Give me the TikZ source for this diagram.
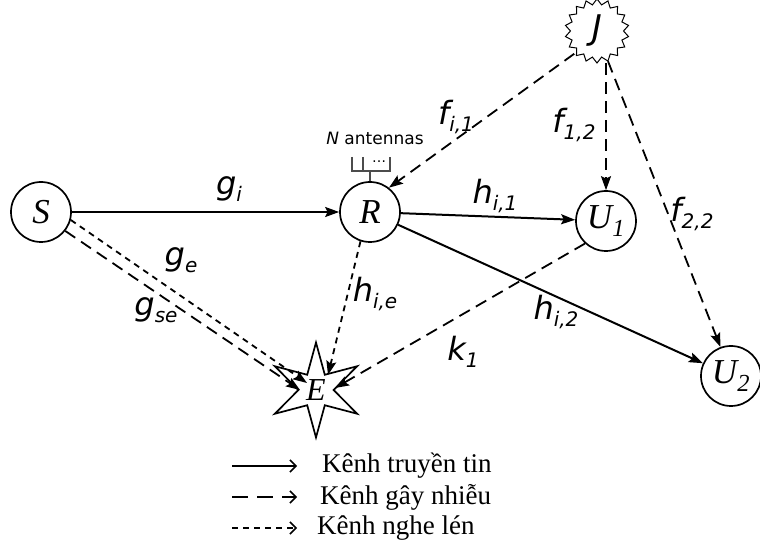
\documentclass[tikz,border=0pt]{standalone}
\usepackage{fontspec}
\setmainfont{Liberation Serif}
\newfontfamily\djv{DejaVu Sans}
\usetikzlibrary{shapes.geometric,arrows.meta,calc}
\newcommand{\lbsub}[2]{{\djv\itshape\fontsize{32}{34}\selectfont #1\raisebox{-7pt}{\fontsize{20}{22}\selectfont #2}}}
\begin{document}
\begin{tikzpicture}[x=1pt,y=1pt,
 nd/.style={circle,draw,line width=1.7pt,minimum size=60pt,inner sep=0pt,font=\fontsize{35}{37}\selectfont\itshape},
 tx/.style={-{Stealth[length=14pt,width=10pt,inset=2.5pt]},line width=2pt},
 jam/.style={tx,dash pattern=on 12pt off 7pt,line width=1.8pt},
 eav/.style={tx,dash pattern=on 6pt off 5pt,line width=1.8pt},
 lab/.style={inner sep=0pt},
 leg/.style={line width=1.5pt,-{Straight Barb[length=6pt,width=12pt]}},
 legtxt/.style={anchor=west,inner sep=0pt,font=\fontsize{27}{29}\selectfont},
 ant/.style={draw=black!70,line width=1.2pt}
]
\useasboundingbox (0,0) rectangle (760,557);
% nodes
\node[nd] (S) at (41,345) {S};
\node[nd] (R) at (370,345) {R};
\node[nd] (U1) at (606,336) {U\textsubscript{\textit{1}}};
\node[nd] (U2) at (731,181) {U\textsubscript{2}};
\node[star,star points=6,star point ratio=2.7,minimum size=95pt,inner sep=0pt,draw,line width=1.7pt,
      font=\fontsize{32}{34}\selectfont\itshape] (E) at (316,167) {E};
\node[circle,minimum size=64pt,inner sep=0pt,font=\djv\itshape\fontsize{34}{36}\selectfont] (J) at (597,526) {J};
\draw[line width=1pt] ([shift={(90:32)}]J.center)
  \foreach \k in {0,...,17}{ -- ([shift={({100+20*\k}:26.5)}]J.center) -- ([shift={({110+20*\k}:32)}]J.center)} -- cycle;
% antenna
\draw[ant] (R.north) -- ++(0,11) coordinate (stem);
\draw[ant] (352,400) -- (352,386) -- (390,386) -- (390,400);
\draw[ant] (363,400) -- (363,386);
\node[inner sep=0pt,font=\djv\fontsize{14}{14}\selectfont] (dots) at (379,395) {…};
\node[inner sep=0pt,font=\djv\fontsize{17}{18}\selectfont] (Nant) at (375,419) {\textit{N} antennas};
% end coordinates on E
\coordinate (eS1) at ($(E)+(-9,7)$);
\coordinate (eS2) at ($(E)+(-16,0)$);
\coordinate (eR) at ($(E)+(12,15)$);
\coordinate (eU) at ($(E)+(19,2)$);
% connectors
\draw[tx] (S) -- (R);
\draw[tx] (R) -- (U1);
\draw[tx] (R) -- (U2);
\draw[eav] (S.-15) -- (eS1);
\draw[jam] (S.-38) -- (eS2);
\draw[eav] (R.-108) -- (eR);
\draw[jam] (U1.-133) -- (eU);
\draw[jam] (J.-135) -- (R.52);
\draw[jam] (U1.north |- J.south) -- (U1.north);
\draw[jam] (J.-70) -- (U2.110);
% labels
\node[lab] (lgi) at (229,368) {\lbsub{g}{i}};
\node[lab] (lge) at (181,297) {\lbsub{g}{e}};
\node[lab] (lgse) at (156,247) {\lbsub{g}{se}};
\node[lab] (lhie) at (375,263) {\lbsub{h}{i,e}};
\node[lab] (lfi1) at (456,440) {\lbsub{f}{i,1}};
\node[lab] (lf12) at (574,432) {\lbsub{f}{1,2}};
\node[lab] (lhi1) at (495,361) {\lbsub{h}{i,1}};
\node[lab] (lhi2) at (556,245) {\lbsub{h}{i,2}};
\node[lab] (lk1) at (463,205) {\lbsub{k}{1}};
\node[lab] (lf22) at (692,343) {\lbsub{f}{2,2}};
% legend
\coordinate (l1a) at (232,91); \coordinate (l1b) at (297,91);
\coordinate (l2a) at (232,60); \coordinate (l2b) at (297,60);
\coordinate (l3a) at (232,29); \coordinate (l3b) at (297,29);
\draw[leg] (l1a) -- (l1b);
\draw[leg,dash pattern=on 16pt off 9pt] (l2a) -- (l2b);
\draw[leg,dash pattern=on 6pt off 5pt] (l3a) -- (l3b);
\node[legtxt] (t1) at (322,91) {Kênh truyền tin};
\node[legtxt] (t2) at (320,60) {Kênh gây nhiễu};
\node[legtxt] (t3) at (317,29) {Kênh nghe lén};
\end{tikzpicture}
\end{document}
